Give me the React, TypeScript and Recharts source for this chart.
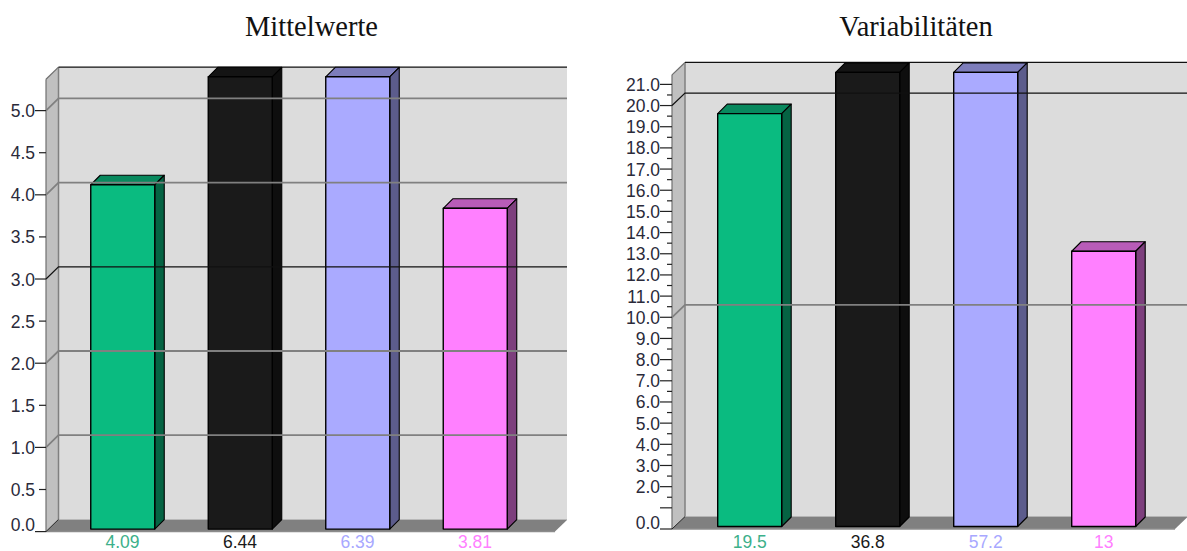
import React from 'react';
import { BarChart, Bar, XAxis, YAxis, ReferenceArea, ReferenceLine } from 'recharts';

const meanLabels = ['4.09', '6.44', '6.39', '3.81'];
const meanValues = [4.09, 6.44, 6.39, 3.81];
const meanTicks = [0, 0.5, 1, 1.5, 2, 2.5, 3, 3.5, 4, 4.5, 5];
const meanLongTicks = [0, 1, 2, 3, 4, 5];
const meanHiddenLabels: number[] = [];
const meanGrid = [1, 2, 3, 4, 5];
const meanBlackGrid = [3];

const varLabels = ['19.5', '36.8', '57.2', '13'];
const varValues = [19.5, 36.8, 57.2, 13];
const varTicks = [0, 1, 1.5, 2, 2.5, 3, 3.5, 4, 4.5, 5, 5.5, 6, 6.5, 7, 7.5, 8, 8.5, 9, 9.5, 10, 10.5, 11, 11.5, 12, 12.5, 13, 13.5, 14, 14.5, 15, 15.5, 16, 16.5, 17, 17.5, 18, 18.5, 19, 19.5, 20, 20.5, 21];
const varLongTicks = [0, 1, 2, 3, 4, 5, 6, 7, 8, 9, 10, 11, 12, 13, 14, 15, 16, 17, 18, 19, 20, 21];
const varHiddenLabels = [1];
const varGrid = [10, 20];
const varBlackGrid = [20];

const faceColors = ['#0abb80', '#1a1a1a', '#aaaaff', '#ff80ff'];
const topColors = ['#08895e', '#141414', '#7d7dbb', '#b85cb8'];
const sideColors = ['#056343', '#0e0e0e', '#5c5c8c', '#7d3f7d'];
const labelColors = ['#3cb08a', '#1a1a1a', '#a8a8ff', '#ff80ff'];

const FONT = '"Liberation Sans", Arial, sans-serif';

type PanelProps = {
  title: string; titleX: number; left: number; width: number; axisWidth: number;
  marginRight: number; top: number; xHeight: number; domainMax: number; wallMax: number;
  paddingLeft: number; paddingRight: number; labels: string[]; values: number[];
  ticks: number[]; longTicks: number[]; hiddenLabels: number[]; grid: number[]; blackGrid: number[];
  dx: number; dy: number; labelDy: number; tickLong: number; tickShort: number;
};

function Panel(p: PanelProps) {
  const data = p.labels.map((label, i) => ({ label, value: p.values[i], idx: i }));

  const Walls = (s: any) => {
    const { y, height } = s;
    const x = s.x - p.paddingLeft;
    const width = s.width + p.paddingLeft + p.paddingRight;
    const b = y + height;
    const r = x + width;
    const { dx, dy } = p;
    return (
      <g>
        <rect x={x + dx} y={y - dy} width={width} height={height} fill="#dcdcdc" />
        <polygon points={`${x},${y} ${x + dx},${y - dy} ${x + dx},${b - dy} ${x},${b}`} fill="#c0c0c0" />
        <polygon points={`${x},${b} ${x + dx},${b - dy} ${r + dx},${b - dy} ${r},${b}`} fill="#808080" />
        <line x1={x} y1={y} x2={x + dx} y2={y - dy} stroke="#707070" strokeWidth={1.2} />
        <line x1={x} y1={y} x2={x} y2={b} stroke="#707070" strokeWidth={1.2} />
        <line x1={x + dx} y1={y - dy} x2={x + dx} y2={b - dy} stroke="#808080" strokeWidth={1.5} />
        <line x1={x + dx} y1={y - dy} x2={r + dx} y2={y - dy} stroke="#111" strokeWidth={1.2} />
        <line x1={x} y1={b} x2={r} y2={b} stroke="#8c8c8c" strokeWidth={1.5} />
        <line x1={x} y1={b} x2={x + dx} y2={b - dy} stroke="#222" strokeWidth={1} />
      </g>
    );
  };

  const gridLine = (black: boolean) => (s: any) => {
    const x1 = Math.min(s.x1 ?? 0, s.x2 ?? 0);
    const x2 = Math.max(s.x1 ?? 0, s.x2 ?? 0);
    const y = s.y1;
    const stroke = black ? '#111' : '#808080';
    const sw = black ? 1.2 : 1.8;
    return (
      <polyline
        points={`${x1},${y} ${x1 + p.dx},${y - p.dy} ${x2 + p.dx},${y - p.dy}`}
        fill="none" stroke={stroke} strokeWidth={sw}
      />
    );
  };

  const Box3D = (s: any) => {
    const i = s.idx ?? s.payload?.idx ?? s.index;
    const perUnit = s.height / s.payload.value;
    const h = Math.min(s.height, p.wallMax * perUnit);
    const lift = 2.5;
    const d = 9.5;
    const bottom = s.y + s.height - lift;
    const top = bottom - h;
    const l = s.x;
    const r = s.x + s.width;
    return (
      <g stroke="#000" strokeWidth={1.1} strokeLinejoin="round">
        <polygon points={`${l},${top} ${l + d},${top - d} ${r + d},${top - d} ${r},${top}`} fill={topColors[i]} />
        <polygon points={`${r},${top} ${r + d},${top - d} ${r + d},${bottom - d} ${r},${bottom}`} fill={sideColors[i]} />
        <rect x={l} y={top} width={s.width} height={h} fill={faceColors[i]} strokeWidth={1.4} />
      </g>
    );
  };

  const YTick = (s: any) => {
    const v = s.payload.value;
    const long = p.longTicks.includes(v);
    const len = long ? p.tickLong : p.tickShort;
    const hidden = p.hiddenLabels.includes(v) || (p.longTicks.length > 10 && !long);
    return (
      <g>
        <line x1={s.x - len} y1={s.y} x2={s.x} y2={s.y} stroke="#222" strokeWidth={1.2} />
        {!hidden && (
          <text x={s.x - p.tickLong} y={s.y + (v === 0 ? -0.5 : 6.5)} textAnchor="end" fontFamily={FONT} fontSize={17.5} fill="#2a2a3a">
            {v.toFixed(1)}
          </text>
        )}
      </g>
    );
  };

  const XTick = (s: any) => (
    <text x={s.x} y={p.labelDy} textAnchor="middle" fontFamily={FONT} fontSize={17.5} fill={labelColors[s.index]}>
      {s.payload.value}
    </text>
  );

  return (
    <div style={{ position: 'absolute', left: p.left, top: 0, width: p.width, height: 551 }}>
      <BarChart
        width={p.width}
        height={551}
        data={data}
        margin={{ top: p.top, right: p.marginRight, bottom: 0, left: 0 }}
      >
        <XAxis
          dataKey="label"
          axisLine={false}
          tickLine={false}
          height={p.xHeight}
          interval={0}
          padding={{ left: p.paddingLeft, right: p.paddingRight }}
          tick={XTick}
        />
        <YAxis
          type="number"
          width={p.axisWidth}
          domain={[0, p.domainMax]}
          allowDataOverflow
          ticks={p.ticks}
          interval={0}
          axisLine={false}
          tickLine={false}
          tickSize={0}
          tickMargin={0}
          tick={YTick}
        />
        <ReferenceArea y1={0} y2={p.wallMax} ifOverflow="visible" shape={Walls} />
        {p.grid.map((v) => (
          <ReferenceLine key={v} y={v} ifOverflow="visible" shape={gridLine(p.blackGrid.includes(v))} />
        ))}
        <Bar dataKey="value" barSize={64} isAnimationActive={false} shape={Box3D} />
      </BarChart>
      <div
        style={{
          position: 'absolute', left: p.titleX - 150, top: 12, width: 300, textAlign: 'center',
          fontFamily: '"Liberation Serif", "Times New Roman", serif', fontSize: 28.5, lineHeight: '30px', color: '#111',
        }}
      >
        {p.title}
      </div>
    </div>
  );
}

export default function App() {
  return (
    <div style={{ position: 'absolute', left: 0, top: 0, width: 1187, height: 551, overflow: 'hidden', background: '#fff' }}>
      <Panel
        title="Mittelwerte" titleX={311.5} left={0} width={567} axisWidth={46} marginRight={12}
        top={50} xHeight={19.4} domainMax={5.72} wallMax={5.372}
        paddingLeft={17.75} paddingRight={21.25}
        labels={meanLabels} values={meanValues} ticks={meanTicks} longTicks={meanLongTicks}
        hiddenLabels={meanHiddenLabels} grid={meanGrid} blackGrid={meanBlackGrid}
        dx={12.5} dy={12.2} labelDy={548} tickLong={11} tickShort={7}
      />
      <Panel
        title="Variabilitäten" titleX={316} left={600} width={587} axisWidth={72} marginRight={12}
        top={45} xHeight={22} domainMax={22.86} wallMax={21.45}
        paddingLeft={18.7} paddingRight={12.3}
        labels={varLabels} values={varValues} ticks={varTicks} longTicks={varLongTicks}
        hiddenLabels={varHiddenLabels} grid={varGrid} blackGrid={varBlackGrid}
        dx={13} dy={12.4} labelDy={548} tickLong={12} tickShort={5}
      />
    </div>
  );
}
